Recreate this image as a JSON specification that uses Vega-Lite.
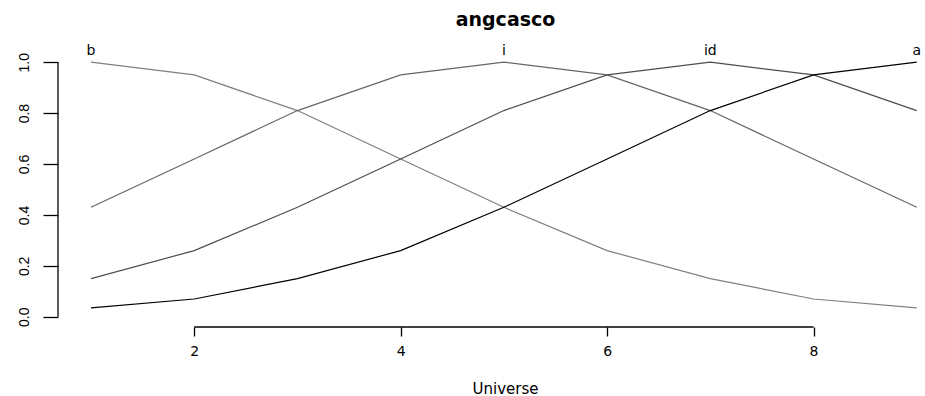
{
  "$schema": "https://vega.github.io/schema/vega-lite/v6.json",
  "autosize": {"type": "none"},
  "width": 867,
  "height": 275,
  "padding": {"left": 58, "top": 52, "right": 0, "bottom": 69},
  "background": "white",
  "config": {
    "view": {"stroke": null},
    "font": "DejaVu Sans",
    "axis": {"grid": false, "domain": false, "tickColor": "black", "tickWidth": 1.3, "labelColor": "black", "titleColor": "black"}
  },
  "title": {
    "text": "angcasco",
    "font": "DejaVu Sans",
    "fontSize": 19,
    "fontWeight": "bold",
    "anchor": "middle",
    "frame": "group",
    "baseline": "alphabetic",
    "dx": 14,
    "offset": -1,
    "color": "black"
  },
  "datasets": {
    "membership": [
      {"u": 1, "grade": 1.0, "set": "b"},
      {"u": 2, "grade": 0.95, "set": "b"},
      {"u": 3, "grade": 0.81, "set": "b"},
      {"u": 4, "grade": 0.62, "set": "b"},
      {"u": 5, "grade": 0.43, "set": "b"},
      {"u": 6, "grade": 0.26, "set": "b"},
      {"u": 7, "grade": 0.15, "set": "b"},
      {"u": 8, "grade": 0.07, "set": "b"},
      {"u": 9, "grade": 0.035, "set": "b"},
      {"u": 1, "grade": 0.43, "set": "i"},
      {"u": 2, "grade": 0.62, "set": "i"},
      {"u": 3, "grade": 0.81, "set": "i"},
      {"u": 4, "grade": 0.95, "set": "i"},
      {"u": 5, "grade": 1.0, "set": "i"},
      {"u": 6, "grade": 0.95, "set": "i"},
      {"u": 7, "grade": 0.81, "set": "i"},
      {"u": 8, "grade": 0.62, "set": "i"},
      {"u": 9, "grade": 0.43, "set": "i"},
      {"u": 1, "grade": 0.15, "set": "id"},
      {"u": 2, "grade": 0.26, "set": "id"},
      {"u": 3, "grade": 0.43, "set": "id"},
      {"u": 4, "grade": 0.62, "set": "id"},
      {"u": 5, "grade": 0.81, "set": "id"},
      {"u": 6, "grade": 0.95, "set": "id"},
      {"u": 7, "grade": 1.0, "set": "id"},
      {"u": 8, "grade": 0.95, "set": "id"},
      {"u": 9, "grade": 0.81, "set": "id"},
      {"u": 1, "grade": 0.035, "set": "a"},
      {"u": 2, "grade": 0.07, "set": "a"},
      {"u": 3, "grade": 0.15, "set": "a"},
      {"u": 4, "grade": 0.26, "set": "a"},
      {"u": 5, "grade": 0.43, "set": "a"},
      {"u": 6, "grade": 0.62, "set": "a"},
      {"u": 7, "grade": 0.81, "set": "a"},
      {"u": 8, "grade": 0.95, "set": "a"},
      {"u": 9, "grade": 1.0, "set": "a"}
    ],
    "peaks": [
      {"u": 1, "grade": 1.0, "set": "b"},
      {"u": 5, "grade": 1.0, "set": "i"},
      {"u": 7, "grade": 1.0, "set": "id"},
      {"u": 9, "grade": 1.0, "set": "a"}
    ],
    "xline": [{"from": 2, "to": 8, "at": -0.04}],
    "yline": [{"at": 0.68, "from": 0, "to": 1}]
  },
  "layer": [
    {
      "data": {"name": "membership"},
      "mark": {"type": "line", "strokeWidth": 1.2},
      "encoding": {
        "x": {
          "field": "u", "type": "quantitative",
          "scale": {"domain": [0.68, 9.08], "nice": false, "zero": false},
          "axis": {"values": [2, 4, 6, 8], "format": "d", "tickSize": 9, "labelFont": "DejaVu Sans", "labelFontSize": 14, "labelPadding": 8, "title": "Universe", "titleFont": "DejaVu Sans", "titleFontSize": 15, "titleFontWeight": "normal", "titlePadding": 23, "titleX": 447}
        },
        "y": {
          "field": "grade", "type": "quantitative",
          "scale": {"domain": [-0.04, 1.04], "nice": false, "zero": false},
          "axis": {"values": [0, 0.2, 0.4, 0.6, 0.8, 1.0], "format": ".1f", "tickSize": 15, "labelAngle": -90, "labelAlign": "center", "labelBaseline": "bottom", "labelFont": "Liberation Sans", "labelFontSize": 14, "labelPadding": 12, "title": null}
        },
        "color": {
          "field": "set", "type": "nominal",
          "scale": {"domain": ["b", "i", "id", "a"], "range": ["#7f7f7f", "#666666", "#4d4d4d", "#000000"]},
          "legend": null
        },
        "detail": {"field": "set"}
      }
    },
    {
      "data": {"name": "peaks"},
      "mark": {"type": "text", "font": "DejaVu Sans", "fontSize": 14, "dy": -7, "color": "black", "baseline": "alphabetic"},
      "encoding": {
        "x": {"field": "u", "type": "quantitative"},
        "y": {"field": "grade", "type": "quantitative"},
        "text": {"field": "set"}
      }
    },
    {
      "data": {"name": "xline"},
      "mark": {"type": "rule", "color": "black", "strokeWidth": 1.3},
      "encoding": {
        "x": {"field": "from", "type": "quantitative"},
        "x2": {"field": "to"},
        "y": {"field": "at", "type": "quantitative"}
      }
    },
    {
      "data": {"name": "yline"},
      "mark": {"type": "rule", "color": "black", "strokeWidth": 1.3},
      "encoding": {
        "x": {"field": "at", "type": "quantitative"},
        "y": {"field": "from", "type": "quantitative"},
        "y2": {"field": "to"}
      }
    }
  ]
}
